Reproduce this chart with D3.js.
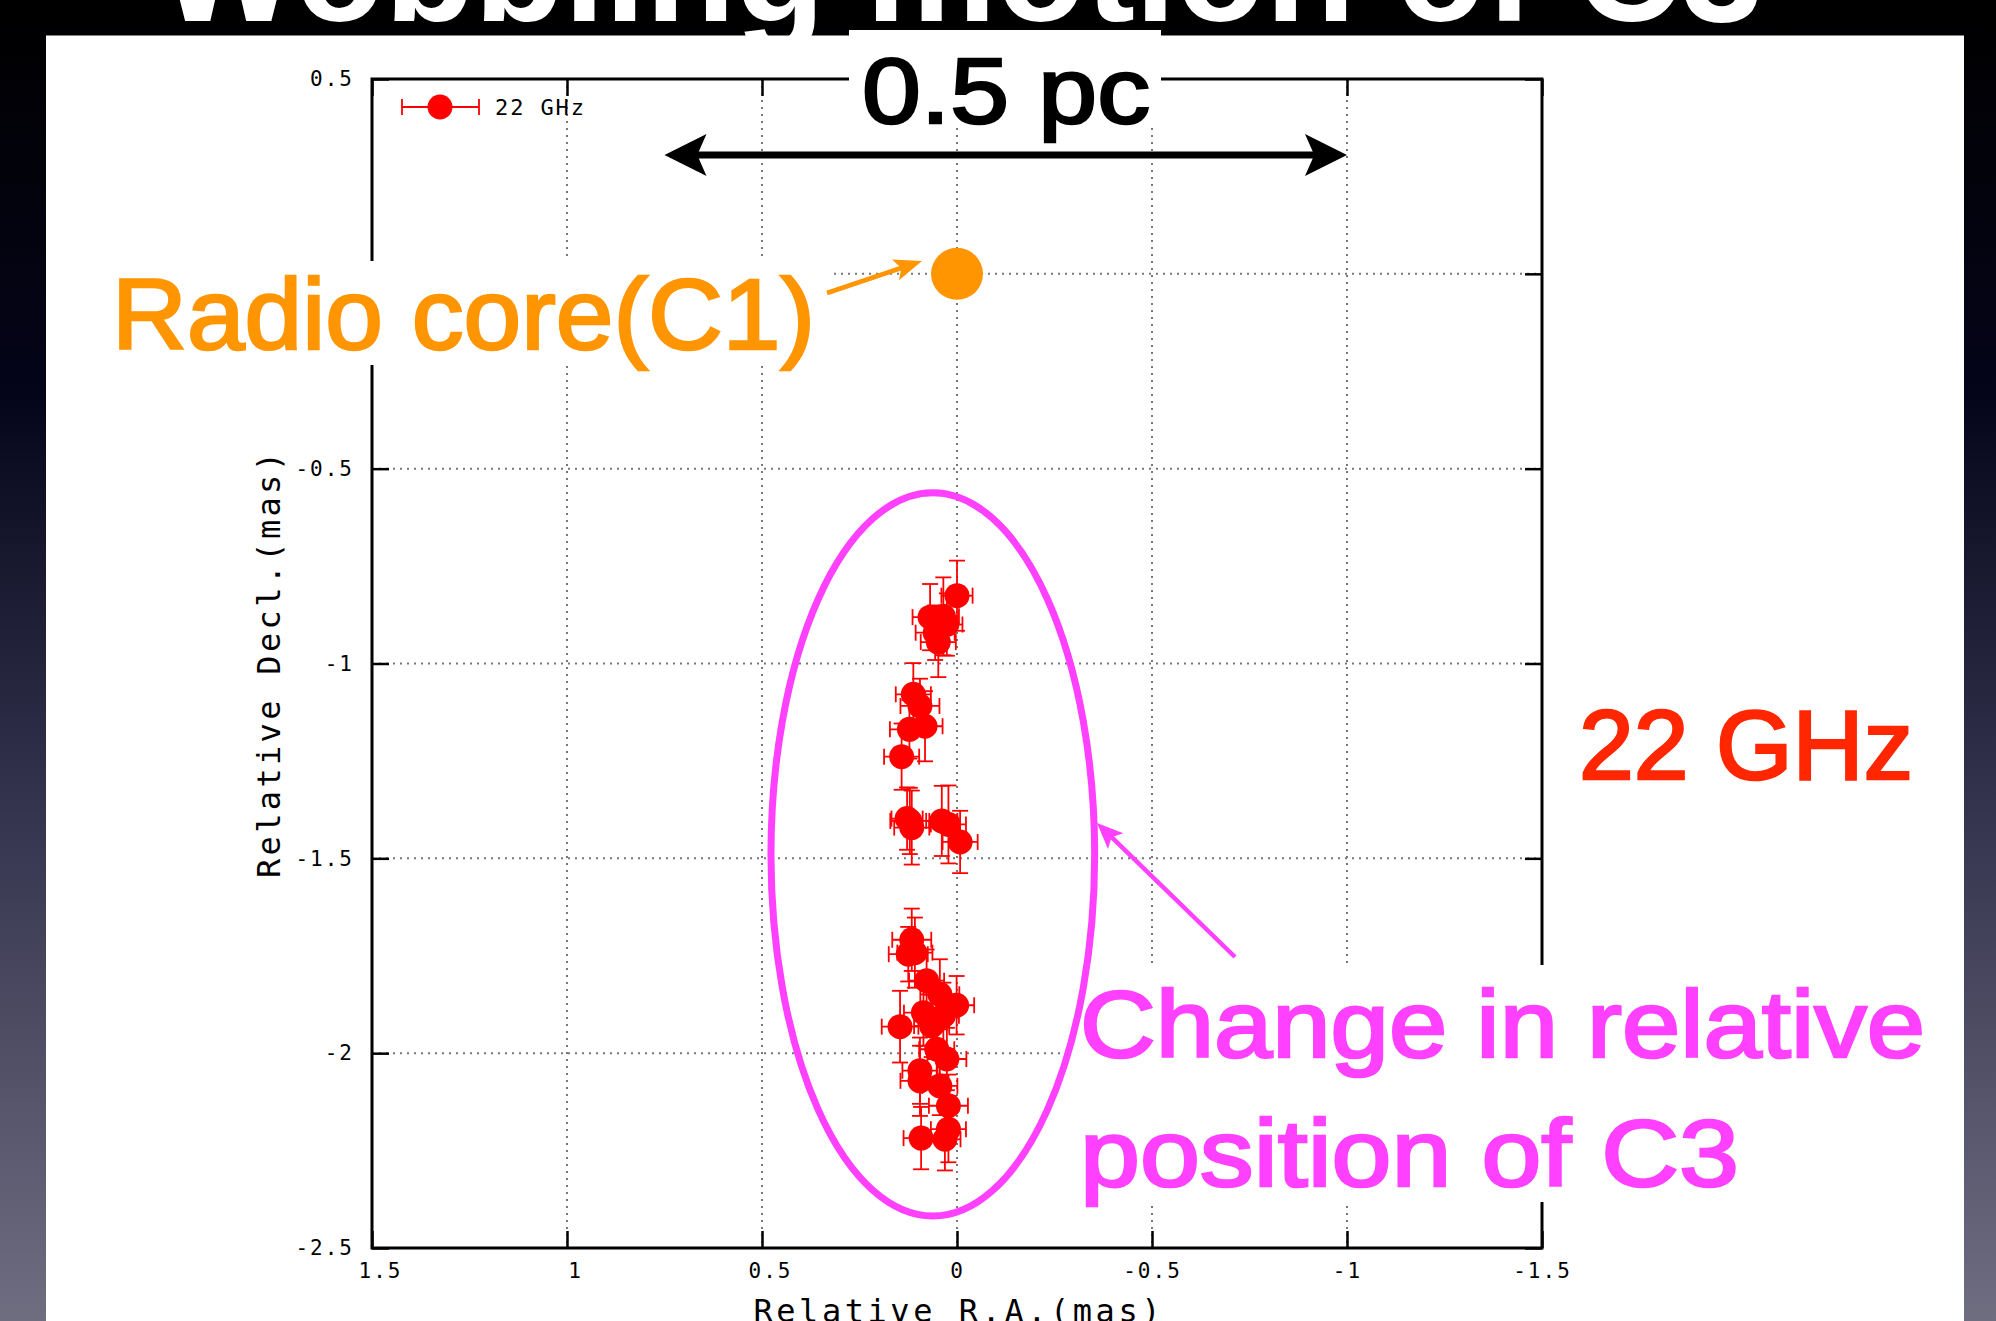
<!DOCTYPE html>
<html>
<head>
<meta charset="utf-8">
<script src="https://cdn.jsdelivr.net/npm/d3@7"></script>
<style>
  html, body { margin: 0; padding: 0; background: #000; }
  svg { display: block; }
</style>
</head>
<body>
<div id="chart"></div>
<script>
// C3 positions relative to the core (mas)
const raOffsets = [0.000, 0.069, 0.035, 0.026, 0.056, 0.048, 0.112, 0.095, 0.082, 0.122, 0.142,
  0.121, 0.116, 0.128, 0.039, 0.022, -0.008,
  0.116, 0.108, 0.125, 0.078, 0.044, 0.001, 0.086, 0.146, 0.065, 0.035, 0.052, 0.026,
  0.095, 0.095, 0.044, 0.022, 0.022, 0.031, 0.092];
const decOffsets = [-0.826, -0.881, -0.879, -0.900, -0.921, -0.945, -1.079, -1.109, -1.161, -1.169, -1.239,
  -1.404, -1.421, -1.398, -1.404, -1.413, -1.458,
  -1.709, -1.742, -1.746, -1.814, -1.849, -1.877, -1.896, -1.932, -1.930, -1.904, -1.990, -2.015,
  -2.045, -2.071, -2.084, -2.135, -2.195, -2.221, -2.218];
const raErrors = [0.040, 0.045, 0.040, 0.040, 0.050, 0.045, 0.045, 0.050, 0.045, 0.050, 0.045,
  0.050, 0.045, 0.040, 0.040, 0.045, 0.045,
  0.050, 0.045, 0.050, 0.045, 0.050, 0.045, 0.050, 0.047, 0.045, 0.040, 0.045, 0.050,
  0.045, 0.050, 0.045, 0.050, 0.045, 0.040, 0.045];
const decErrors = [0.090, 0.085, 0.100, 0.080, 0.070, 0.090, 0.080, 0.070, 0.090, 0.075, 0.085,
  0.085, 0.095, 0.080, 0.090, 0.100, 0.080,
  0.080, 0.090, 0.070, 0.080, 0.090, 0.075, 0.085, 0.092, 0.080, 0.085, 0.090, 0.080,
  0.085, 0.090, 0.075, 0.080, 0.085, 0.080, 0.080];

const corePosition = [0, 0];
const xTicks = [1.5, 1, 0.5, 0, -0.5, -1, -1.5];
const yTicks = [0.5, 0, -0.5, -1, -1.5, -2, -2.5];
const seriesLabel = '22 GHz';

let width = 1996;
let height = 1321;

let svg = d3.select('#chart')
  .append('svg')
  .attr('width', width)
  .attr('height', height);

// slide background
let defs = svg.append('defs');
let grad = defs.append('linearGradient')
  .attr('id', 'bg')
  .attr('x1', 0).attr('y1', 0).attr('x2', 0).attr('y2', 1);
grad.append('stop').attr('offset', '0%').attr('stop-color', '#000000');
grad.append('stop').attr('offset', '30%').attr('stop-color', '#05051a');
grad.append('stop').attr('offset', '60%').attr('stop-color', '#33324d');
grad.append('stop').attr('offset', '100%').attr('stop-color', '#6f6d80');

svg.append('rect')
  .attr('width', width)
  .attr('height', height)
  .attr('fill', 'url(#bg)');

// title sits mostly above the frame, white panel covers its lower part
svg.append('text')
  .attr('x', 159)
  .attr('y', 21)
  .attr('font-family', 'Liberation Sans, Arial, sans-serif')
  .attr('font-weight', 'bold')
  .attr('font-size', 150)
  .attr('fill', '#fff')
  .attr('textLength', 1604)
  .attr('lengthAdjust', 'spacingAndGlyphs')
  .text('Wobbling motion of C3');

svg.append('rect')
  .attr('x', 46)
  .attr('y', 35.5)
  .attr('width', 1918)
  .attr('height', height - 35.5)
  .attr('fill', '#fff');

let x = d3.scaleLinear().domain([1.5, -1.5]).range([372, 1542]);
let y = d3.scaleLinear().domain([0.5, -2.5]).range([79, 1248]);

let monoFont = 'DejaVu Sans Mono, Liberation Mono, monospace';
let fmt = d => String(d);

// dotted grid
let grid = svg.append('g')
  .attr('stroke', '#777')
  .attr('stroke-width', 2)
  .attr('stroke-dasharray', '2,5');

grid.selectAll('.vgrid')
  .data(xTicks.slice(1, -1))
  .enter()
  .append('line')
  .attr('x1', d => x(d)).attr('x2', d => x(d))
  .attr('y1', y(0.5)).attr('y2', y(-2.5));

grid.selectAll('.hgrid')
  .data(yTicks.slice(1, -1))
  .enter()
  .append('line')
  .attr('x1', x(1.5)).attr('x2', x(-1.5))
  .attr('y1', d => y(d)).attr('y2', d => y(d));

// axes, ticks pointing inward
let axisB = svg.append('g')
  .attr('transform', 'translate(0,' + y(-2.5) + ')')
  .call(d3.axisBottom(x).tickValues(xTicks).tickFormat(fmt).tickSizeInner(-17).tickSizeOuter(0).tickPadding(15));

let axisT = svg.append('g')
  .attr('transform', 'translate(0,' + y(0.5) + ')')
  .call(d3.axisTop(x).tickValues(xTicks).tickFormat('').tickSizeInner(-17).tickSizeOuter(0));

let axisL = svg.append('g')
  .attr('transform', 'translate(' + x(1.5) + ',0)')
  .call(d3.axisLeft(y).tickValues(yTicks).tickFormat(fmt).tickSizeInner(-17).tickSizeOuter(0).tickPadding(18));

let axisR = svg.append('g')
  .attr('transform', 'translate(' + x(-1.5) + ',0)')
  .call(d3.axisRight(y).tickValues(yTicks).tickFormat('').tickSizeInner(-17).tickSizeOuter(0));

[axisB, axisT, axisL, axisR].forEach(a => {
  a.select('.domain').remove();
  a.selectAll('.tick line').attr('stroke', '#000').attr('stroke-width', 2.5);
  a.selectAll('.tick text')
    .attr('font-family', monoFont)
    .attr('font-size', 21)
    .attr('letter-spacing', 2)
    .attr('fill', '#000');
});

// gnuplot leaves room for the sign on positive labels
axisB.selectAll('.tick text')
  .attr('dx', d => d > 0 ? 8 : 0);

// the "0" label on the left sits under the Radio core caption
axisL.selectAll('.tick text')
  .filter(d => d === 0)
  .remove();

svg.append('rect')
  .attr('x', x(1.5))
  .attr('y', y(0.5))
  .attr('width', x(-1.5) - x(1.5))
  .attr('height', y(-2.5) - y(0.5))
  .attr('fill', 'none')
  .attr('stroke', '#000')
  .attr('stroke-width', 3);

// axis titles
svg.append('text')
  .attr('x', x(0))
  .attr('y', 1322)
  .attr('text-anchor', 'middle')
  .attr('font-family', monoFont)
  .attr('font-size', 32)
  .attr('textLength', 407)
  .attr('fill', '#000')
  .text('Relative R.A.(mas)');

svg.append('text')
  .attr('transform', 'translate(269,665) rotate(-90)')
  .attr('text-anchor', 'middle')
  .attr('dominant-baseline', 'central')
  .attr('font-family', monoFont)
  .attr('font-size', 32)
  .attr('textLength', 426)
  .attr('fill', '#000')
  .text('Relative Decl.(mas)');

// C3 points with error bars
let red = '#ff0000';
let points = raOffsets.map((ra, i) => ({
  ra: ra, dec: decOffsets[i], raErr: raErrors[i], decErr: decErrors[i]
}));

let bars = svg.append('g')
  .attr('stroke', red)
  .attr('stroke-width', 1.8)
  .attr('fill', 'none');

let cap = 8;
points.forEach(p => {
  let px = x(p.ra), py = y(p.dec);
  let xl = x(p.ra + p.raErr), xr = x(p.ra - p.raErr);
  let yt = y(p.dec + p.decErr), yb = y(p.dec - p.decErr);
  bars.append('line').attr('x1', xl).attr('x2', xr).attr('y1', py).attr('y2', py);
  bars.append('line').attr('x1', xl).attr('x2', xl).attr('y1', py - cap).attr('y2', py + cap);
  bars.append('line').attr('x1', xr).attr('x2', xr).attr('y1', py - cap).attr('y2', py + cap);
  bars.append('line').attr('x1', px).attr('x2', px).attr('y1', yt).attr('y2', yb);
  bars.append('line').attr('x1', px - cap).attr('x2', px + cap).attr('y1', yt).attr('y2', yt);
  bars.append('line').attr('x1', px - cap).attr('x2', px + cap).attr('y1', yb).attr('y2', yb);
});

svg.append('g')
  .selectAll('circle')
  .data(points)
  .enter()
  .append('circle')
  .attr('cx', d => x(d.ra))
  .attr('cy', d => y(d.dec))
  .attr('r', 12.5)
  .attr('fill', red);

// key
let key = svg.append('g')
  .attr('stroke', red)
  .attr('stroke-width', 1.8);
key.append('line').attr('x1', 402).attr('x2', 479).attr('y1', 107).attr('y2', 107);
key.append('line').attr('x1', 402).attr('x2', 402).attr('y1', 99).attr('y2', 115);
key.append('line').attr('x1', 479).attr('x2', 479).attr('y1', 99).attr('y2', 115);
key.append('circle').attr('cx', 440).attr('cy', 107).attr('r', 12.5).attr('fill', red).attr('stroke', 'none');
svg.append('text')
  .attr('x', 495)
  .attr('y', 107)
  .attr('dominant-baseline', 'central')
  .attr('font-family', monoFont)
  .attr('font-size', 22)
  .attr('textLength', 89)
  .attr('fill', '#000')
  .text(seriesLabel);

// radio core
let orange = '#ff9500';
svg.append('circle')
  .attr('cx', x(corePosition[0]))
  .attr('cy', y(corePosition[1]))
  .attr('r', 26)
  .attr('fill', orange);

// white boxes behind the slide labels
let boxes = [[100, 261, 729, 104], [849, 30, 312, 98], [1072, 965, 880, 237]];
boxes.forEach(b => {
  svg.append('rect')
    .attr('x', b[0]).attr('y', b[1]).attr('width', b[2]).attr('height', b[3])
    .attr('fill', '#fff');
});

function arrowHead(g, tx, ty, angle, len, half, color) {
  let notch = len * 0.78;
  let pts = [[0, 0], [-len, -half], [-notch, 0], [-len, half]];
  g.append('polygon')
    .attr('points', pts.map(p => p.join(',')).join(' '))
    .attr('transform', 'translate(' + tx + ',' + ty + ') rotate(' + angle + ')')
    .attr('fill', color);
}

function arrow(x1, y1, x2, y2, color, w, len, half, both) {
  let g = svg.append('g');
  let dx = x2 - x1, dy = y2 - y1;
  let d = Math.sqrt(dx * dx + dy * dy);
  let ux = dx / d, uy = dy / d;
  let cut = len * 0.7;
  let sx = both ? x1 + ux * cut : x1, sy = both ? y1 + uy * cut : y1;
  let ang = Math.atan2(dy, dx) * 180 / Math.PI;
  g.append('line')
    .attr('x1', sx).attr('y1', sy).attr('x2', x2 - ux * cut).attr('y2', y2 - uy * cut)
    .attr('stroke', color).attr('stroke-width', w);
  arrowHead(g, x2, y2, ang, len, half, color);
  if (both) arrowHead(g, x1, y1, ang + 180, len, half, color);
}

// 0.5 pc scale arrow
arrow(x(0.75), y(0.305), x(-1.0), y(0.305), '#000', 7, 42, 21, true);

// magenta ellipse around the C3 positions
let magenta = '#ff40ff';
svg.append('ellipse')
  .attr('cx', x(0.062))
  .attr('cy', y(-1.49))
  .attr('rx', x(0) - x(0.415))
  .attr('ry', y(-0.928) - y(0))
  .attr('fill', 'none')
  .attr('stroke', magenta)
  .attr('stroke-width', 7);

arrow(827, 293, 922, 261, orange, 4.5, 28, 11, false);
arrow(1235, 957, 1097, 823, magenta, 4.5, 26, 11, false);

// slide labels
let sans = 'Liberation Sans, Arial, sans-serif';
function label(txt, lx, ly, size, len, color) {
  svg.append('text')
    .attr('x', lx)
    .attr('y', ly)
    .attr('font-family', sans)
    .attr('font-size', size)
    .attr('fill', color)
    .attr('stroke', color)
    .attr('stroke-width', 2.6)
    .attr('textLength', len)
    .attr('lengthAdjust', 'spacingAndGlyphs')
    .text(txt);
}

label('0.5 pc', 862, 123, 92, 288, '#000');
label('Radio core(C1)', 112, 349, 101, 703, orange);
label('22 GHz', 1579, 779, 98, 334, '#ff2600');
label('Change in relative', 1080, 1057, 95, 845, magenta);
label('position of C3', 1080, 1186, 95, 659, magenta);
</script>
</body>
</html>
